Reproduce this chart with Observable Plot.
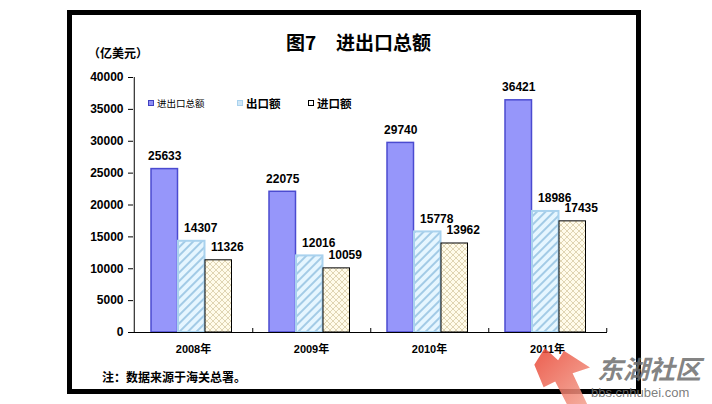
<!DOCTYPE html>
<html><head><meta charset="utf-8">
<script src="https://cdn.jsdelivr.net/npm/d3@7"></script>
<script src="https://cdn.jsdelivr.net/npm/@observablehq/plot@0.6"></script>
<style>
html,body{margin:0;padding:0;background:#fff;}
#page{position:relative;width:712px;height:404px;overflow:hidden;font-family:"Liberation Sans","Noto Sans CJK SC",sans-serif;}
#frame{position:absolute;left:67px;top:10px;width:564px;height:374px;border:5px solid #000;}
#chart{position:absolute;left:0;top:60px;}
.t{position:absolute;white-space:nowrap;color:#000;}
#title1,#title2{font-family:"Noto Sans CJK SC",sans-serif;font-weight:bold;font-size:19px;top:29px;line-height:26px;}
#unit{left:88px;top:45px;font-family:"Noto Sans CJK SC",sans-serif;font-weight:bold;font-size:12px;line-height:16px;}
#note{left:102px;top:369px;font-family:"Noto Sans CJK SC",sans-serif;font-weight:bold;font-size:12px;line-height:16px;}
.lg{position:absolute;top:96px;height:14px;display:flex;align-items:center;font-family:"Noto Sans CJK SC",sans-serif;white-space:nowrap;}
.sw{width:6px;height:6px;margin-right:3px;box-sizing:border-box;}
#wm1{left:597px;top:350px;font-family:"Noto Sans CJK SC",sans-serif;font-weight:bold;font-style:italic;font-size:26px;color:rgba(110,110,110,0.85);line-height:36px;}
#wm2{left:591px;top:385px;font-family:"Liberation Sans",sans-serif;font-size:13px;color:rgba(110,110,110,0.9);line-height:15px;}
#logo{position:absolute;left:532px;top:348px;width:58px;height:56px;background:linear-gradient(135deg,#e8402e,#f3a08e);clip-path:polygon(4% 30%,22% 0%,45% 22%,55% 5%,100% 35%,70% 45%,95% 100%,60% 100%,40% 60%,20% 70%);opacity:0.85;}
</style>
</head><body>
<svg width="0" height="0" style="position:absolute">
  <defs>
    <pattern id="hatchExp" patternUnits="userSpaceOnUse" width="6" height="6" patternTransform="rotate(45)">
      <rect width="6" height="6" fill="#e6f6ff"/>
      <rect x="0" y="0" width="2" height="6" fill="#a3cbe6"/>
    </pattern>
    <pattern id="hatchImp" patternUnits="userSpaceOnUse" width="6" height="6">
      <rect width="6" height="6" fill="#fffbea"/>
      <path d="M0,0L6,6M6,0L0,6" stroke="#d8cba4" stroke-width="0.8"/>
    </pattern>
  </defs>
</svg>
<div id="page">
  <div id="frame"></div>
  <div class="t" id="title1" style="left:286px">图7</div>
  <div class="t" id="title2" style="left:336px">进出口总额</div>
  <div class="t" id="unit">（亿美元）</div>
  <div class="lg" style="left:148px;font-size:9.5px;"><div class="sw" style="background:#8f8ff5;border:1px solid #4040c0"></div>进出口总额</div>
  <div class="lg" style="left:237px;font-size:11.5px;font-weight:bold;"><div class="sw" style="background:#cfe6f6;border:1px solid #a9d2ee"></div>出口额</div>
  <div class="lg" style="left:308px;font-size:11.5px;font-weight:bold;"><div class="sw" style="background:#fff;border:1px solid #000"></div>进口额</div>
  <div id="chart"></div>
  <div class="t" id="note">注：数据来源于海关总署。</div>
  <div id="logo"></div>
  <div class="t" id="wm1">东湖社区</div>
  <div class="t" id="wm2">bbs.cnhubei.com</div>
</div>
<script>
const years = ["2008年", "2009年", "2010年", "2011年"];
const totalValues = [25633, 22075, 29740, 36421];
const exportValues = [14307, 12016, 15778, 18986];
const importValues = [11326, 10059, 13962, 17435];
const yTicks = [0, 5000, 10000, 15000, 20000, 25000, 30000, 35000, 40000];

const totalData = years.map((year, i) => ({year, value: totalValues[i]}));
const exportData = years.map((year, i) => ({year, value: exportValues[i]}));
const importData = years.map((year, i) => ({year, value: importValues[i]}));

const W = 712, H = 310, ML = 133, MR = 105, MT = 17, MB = 38;
const band = (W - ML - MR) / years.length;

const labelStyle = {fontSize: 12, fontWeight: "bold", fill: "#000", dy: -13};

const chart = Plot.plot({
  width: W, height: H,
  marginLeft: ML, marginRight: MR, marginTop: MT, marginBottom: MB,
  style: {background: "transparent", fontFamily: "'Liberation Sans', 'Noto Sans CJK SC', sans-serif", color: "#000", overflow: "visible"},
  x: {domain: years, padding: 0},
  y: {domain: [0, 40000]},
  marks: [
    Plot.barY(totalData, {x: "year", y: "value", fill: "#9696fa", stroke: "#4b4bd0", strokeWidth: 1.5, insetLeft: 17, insetRight: band - 44}),
    Plot.barY(exportData, {x: "year", y: "value", fill: "url(#hatchExp)", stroke: "#a9d2ee", strokeWidth: 2, insetLeft: 44, insetRight: band - 71}),
    Plot.barY(importData, {x: "year", y: "value", fill: "url(#hatchImp)", stroke: "#000", strokeWidth: 1, insetLeft: 71, insetRight: band - 98}),
    Plot.text(totalData, {x: "year", y: "value", text: d => String(d.value), dx: 30.5 - band / 2, ...labelStyle}),
    Plot.text(exportData, {x: "year", y: "value", text: d => String(d.value), dx: 66.5 - band / 2, ...labelStyle}),
    Plot.text(importData, {x: "year", y: "value", text: d => String(d.value), dx: 93 - band / 2, ...labelStyle}),
    Plot.ruleY([0], {stroke: "#000", strokeWidth: 1}),
    Plot.ruleX([years[0]], {dx: -band / 2, stroke: "#000", strokeWidth: 1}),
    Plot.ruleX(years, {dx: band / 2, y1: 0, y2: 0, insetTop: -4, stroke: "#000", strokeWidth: 1}),
    Plot.axisY({ticks: yTicks, tickSize: 5, tickPadding: 5, tickFormat: d => String(d), label: null, fontSize: 12, fontWeight: "bold"}),
    Plot.axisX({tickSize: 0, tickPadding: 13, label: null, fontSize: 11, fontWeight: "bold"})
  ]
});
document.getElementById("chart").appendChild(chart);
</script>
</body></html>
